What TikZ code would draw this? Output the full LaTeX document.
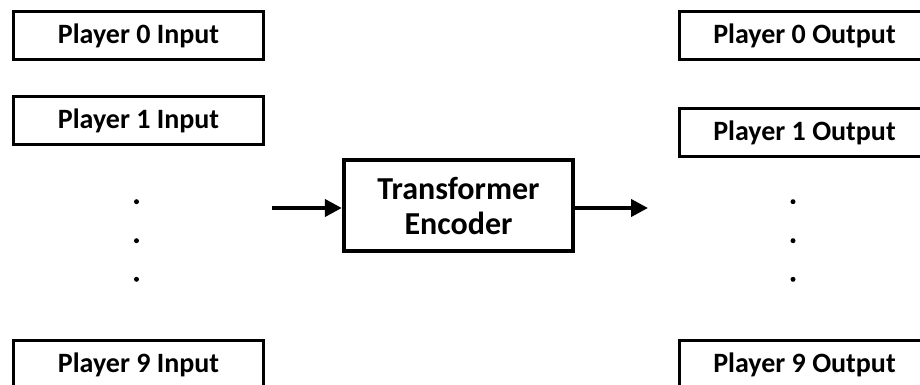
\documentclass[tikz,border=0pt]{standalone}
\usepackage{fontspec}
\setmainfont{Carlito}
\usetikzlibrary{arrows.meta}
\begin{document}
\begin{tikzpicture}[x=1pt,y=-1pt,
  playerbox/.style={draw=black, line width=3.8pt, fill=white,
    minimum width=250pt, minimum height=48pt, inner sep=0pt,
    font=\bfseries\fontsize{28}{32}\selectfont},
  encbox/.style={draw=black, line width=3.8pt, fill=white,
    minimum width=229.5pt, minimum height=91.5pt, inner sep=0pt, align=center,
    font=\bfseries\fontsize{32}{35}\selectfont},
  flow/.style={line width=4pt, -{Triangle[length=17pt,width=17pt]}},
  vdot/.style={circle, fill=black, inner sep=0pt, minimum size=5pt}]
\useasboundingbox (0,0) rectangle (920,385);
\clip (0,0) rectangle (920,385);

% input side
\node[playerbox] (in0) at (138.5,35.5) {Player 0 Input};
\node[playerbox] (in1) at (138.5,120.5) {Player 1 Input};
\node[playerbox] (in9) at (138.5,364.5) {Player 9 Input};
\node[vdot] (ld1) at (136.5,201.7) {};
\node[vdot] (ld2) at (136.5,240.7) {};
\node[vdot] (ld3) at (136.5,279.3) {};

% encoder
\node[encbox] (enc) at (458.5,205.5) {Transformer\\Encoder};
\coordinate (src) at (272,208);
\coordinate (dst) at (648,208);
\draw[flow] (src) -- (src -| enc.west);
\draw[flow] (dst -| enc.east) -- (dst);

% output side
\node[playerbox] (out0) at (804.5,35.5) {Player 0 Output};
\node[playerbox] (out1) at (804.5,132.5) {Player 1 Output};
\node[playerbox] (out9) at (804.5,364.5) {Player 9 Output};
\node[vdot] (rd1) at (793,201.7) {};
\node[vdot] (rd2) at (793,240.7) {};
\node[vdot] (rd3) at (793,279.3) {};
\end{tikzpicture}
\end{document}
